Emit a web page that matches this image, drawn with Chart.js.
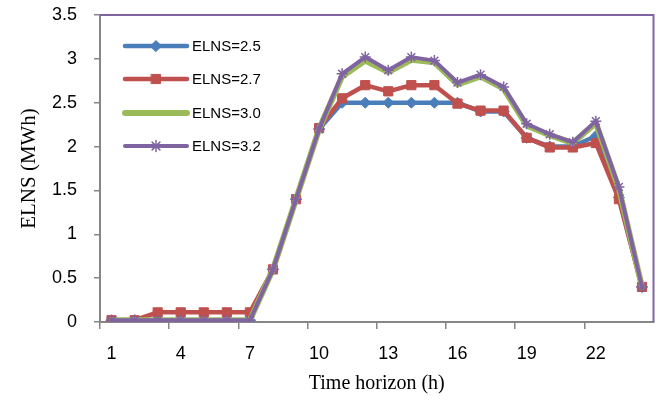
<!DOCTYPE html>
<html>
<head>
<meta charset="utf-8">
<script src="https://cdn.jsdelivr.net/npm/chart.js@4.4.1/dist/chart.umd.min.js"></script>
<style>
  body { margin: 0; background: #fff; }
  canvas { display: block; }
</style>
</head>
<body>
<canvas id="myChart" width="661" height="401"></canvas>
<script>
// hours of the day
var hours = [1, 2, 3, 4, 5, 6, 7, 8, 9, 10, 11, 12, 13, 14, 15, 16, 17, 18, 19, 20, 21, 22, 23, 24];

// ELNS values (MWh) for each limit
var elns25 = [0.02, 0.02, 0.02, 0.02, 0.02, 0.02, 0.02, 0.6, 1.4, 2.2, 2.5, 2.5, 2.5, 2.5, 2.5, 2.5, 2.4, 2.4, 2.1, 2.0, 2.0, 2.12, 1.42, 0.4];
var elns27 = [0.02, 0.02, 0.11, 0.11, 0.11, 0.11, 0.11, 0.6, 1.4, 2.21, 2.55, 2.7, 2.63, 2.7, 2.7, 2.49, 2.41, 2.41, 2.1, 1.99, 1.99, 2.04, 1.4, 0.4];
var elns30 = [0.02, 0.02, 0.02, 0.02, 0.02, 0.02, 0.02, 0.6, 1.4, 2.2, 2.8, 2.98, 2.85, 2.99, 2.96, 2.71, 2.8, 2.66, 2.24, 2.13, 2.04, 2.27, 1.52, 0.4];
var elns32 = [0.02, 0.02, 0.02, 0.02, 0.02, 0.02, 0.02, 0.6, 1.4, 2.2, 2.83, 3.02, 2.87, 3.02, 2.98, 2.73, 2.82, 2.68, 2.26, 2.14, 2.05, 2.29, 1.54, 0.4];

var yTicks = [0, 0.5, 1, 1.5, 2, 2.5, 3, 3.5];

var axisGray = '#868686';

// legend drawn inside the plot, top left
var insideLegend = {
    id: 'insideLegend',
    afterDraw: function (chart) {
        var ctx = chart.ctx;
        var rows = [46, 79, 113, 146];
        chart.data.datasets.forEach(function (ds, i) {
            var y = rows[i];
            ctx.save();
            ctx.strokeStyle = ds.borderColor;
            ctx.lineWidth = ds.borderWidth;
            ctx.lineCap = 'round';
            ctx.beginPath();
            ctx.moveTo(125, y);
            ctx.lineTo(187, y);
            ctx.stroke();
            if (ds.pointRadius > 0) {
                ctx.fillStyle = ds.pointBackgroundColor;
                ctx.strokeStyle = ds.pointBorderColor;
                ctx.lineWidth = ds.pointBorderWidth;
                Chart.helpers.drawPoint(ctx, {
                    pointStyle: ds.pointStyle,
                    radius: ds.pointRadius,
                    rotation: 0,
                    borderWidth: ds.pointBorderWidth
                }, 156, y);
            }
            ctx.fillStyle = '#000';
            ctx.font = '15px "Liberation Sans"';
            ctx.textBaseline = 'middle';
            ctx.textAlign = 'left';
            ctx.fillText(ds.label, 192, y + 1);
            ctx.restore();
        });
    }
};

// purple top and right edges of the plot area
var plotFrame = {
    id: 'plotFrame',
    beforeDatasetsDraw: function (chart) {
        var a = chart.chartArea;
        var ctx = chart.ctx;
        ctx.save();
        ctx.strokeStyle = '#8064A2';
        ctx.lineWidth = 2;
        ctx.beginPath();
        ctx.moveTo(a.left, a.top);
        ctx.lineTo(a.right, a.top);
        ctx.lineTo(a.right, a.bottom);
        ctx.stroke();
        ctx.restore();
    }
};

var ctx = document.getElementById('myChart').getContext('2d');
var chart = new Chart(ctx, {
    type: 'line',
    data: {
        labels: hours,
        datasets: [{
            label: 'ELNS=2.5',
            data: elns25,
            borderColor: '#4A7EBB',
            borderWidth: 4.5,
            pointStyle: 'rectRot',
            pointRadius: 5.5,
            pointBackgroundColor: '#4A7EBB',
            pointBorderColor: '#4A7EBB',
            pointBorderWidth: 1,
            order: 3
        }, {
            label: 'ELNS=2.7',
            data: elns27,
            borderColor: '#C0504D',
            borderWidth: 4.5,
            pointStyle: 'rect',
            pointRadius: 6.5,
            pointBackgroundColor: '#C0504D',
            pointBorderColor: '#C0504D',
            pointBorderWidth: 1,
            order: 2
        }, {
            label: 'ELNS=3.0',
            data: elns30,
            borderColor: '#9BBB59',
            borderWidth: 6,
            pointRadius: 0,
            order: 1
        }, {
            label: 'ELNS=3.2',
            data: elns32,
            borderColor: '#8064A2',
            borderWidth: 4,
            pointStyle: 'star',
            pointRadius: 5.5,
            pointBackgroundColor: '#8064A2',
            pointBorderColor: '#8064A2',
            pointBorderWidth: 1.5,
            order: 0
        }]
    },
    options: {
        responsive: false,
        animation: false,
        events: [],
        layout: { padding: { left: 0, right: 6, top: 15, bottom: 0 } },
        elements: {
            line: { tension: 0, borderJoinStyle: 'round', borderCapStyle: 'round', fill: false },
            point: { hoverRadius: 0 }
        },
        plugins: {
            legend: { display: false },
            tooltip: { enabled: false }
        },
        scales: {
            x: {
                type: 'category',
                offset: true,
                afterFit: function (scale) {
                    scale.height = 79;
                    scale.paddingLeft = 0;
                    scale.paddingRight = 0;
                },
                border: { color: axisGray, width: 2 },
                grid: {
                    offset: true,
                    drawOnChartArea: false,
                    tickLength: 7,
                    lineWidth: 1.5,
                    color: function (c) { return c.index % 3 === 0 ? axisGray : 'rgba(0,0,0,0)'; }
                },
                ticks: {
                    autoSkip: false,
                    maxRotation: 0,
                    padding: 14,
                    color: '#000',
                    font: { family: 'Liberation Sans', size: 18 },
                    callback: function (v, i) { return i % 3 === 0 ? String(hours[i]) : ''; }
                },
                title: {
                    display: true,
                    text: 'Time horizon (h)',
                    color: '#000',
                    font: { family: 'Liberation Serif', size: 20 },
                    padding: { top: 0, bottom: 5 }
                }
            },
            y: {
                min: 0,
                max: 3.5,
                afterFit: function (scale) {
                    scale.width = 100;
                    scale.paddingTop = 0;
                    scale.paddingBottom = 0;
                },
                afterBuildTicks: function (scale) {
                    scale.ticks = yTicks.map(function (v) { return { value: v }; });
                },
                border: { color: axisGray, width: 2 },
                grid: {
                    drawOnChartArea: false,
                    tickLength: 6,
                    lineWidth: 1.5,
                    color: axisGray
                },
                ticks: {
                    padding: 17,
                    color: '#000',
                    font: { family: 'Liberation Sans', size: 18 },
                    callback: function (v) { return String(v); }
                },
                title: {
                    display: true,
                    text: 'ELNS (MWh)',
                    color: '#000',
                    font: { family: 'Liberation Serif', size: 21 },
                    padding: { top: 17, bottom: 0 }
                }
            }
        }
    },
    plugins: [plotFrame, insideLegend]
});
</script>
</body>
</html>
